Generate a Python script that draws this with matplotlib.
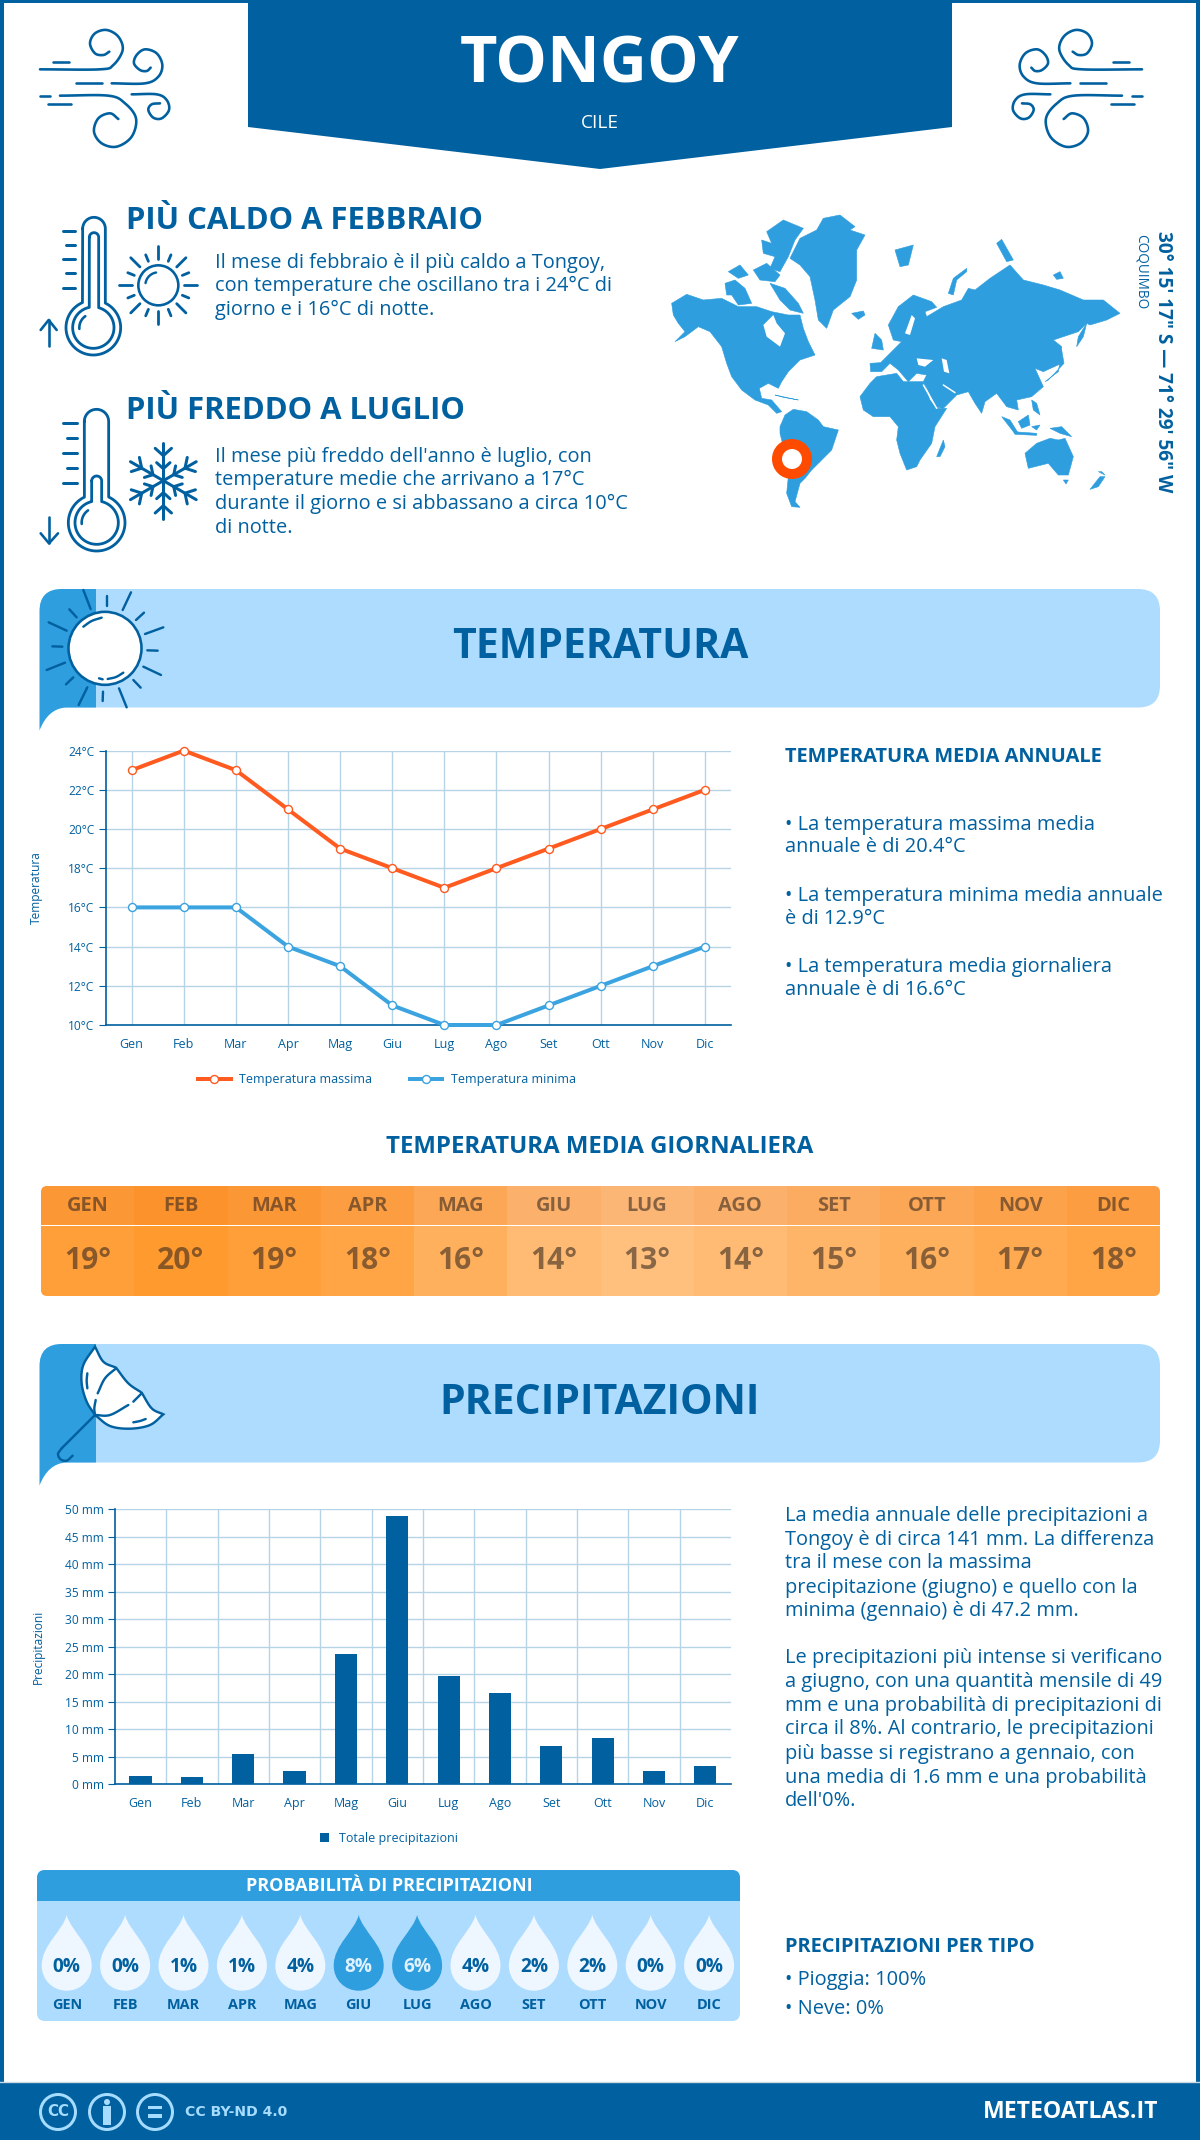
import numpy as np
import matplotlib
matplotlib.use('Agg')
import matplotlib.pyplot as plt
from matplotlib.colors import LinearSegmentedColormap, to_rgb
from matplotlib.patches import Circle, FancyBboxPatch, PathPatch, Polygon, Rectangle
from matplotlib.path import Path

plt.rcParams['font.family'] = ['Open Sans', 'DejaVu Sans']

# Data
months = ['Gen', 'Feb', 'Mar', 'Apr', 'Mag', 'Giu', 'Lug', 'Ago', 'Set', 'Ott', 'Nov', 'Dic']
months_upper = [m.upper() for m in months]
temp_max = [23, 24, 23, 21, 19, 18, 17, 18, 19, 20, 21, 22]
temp_min = [16, 16, 16, 14, 13, 11, 10, 10, 11, 12, 13, 14]
temp_avg = [19, 20, 19, 18, 16, 14, 13, 14, 15, 16, 17, 18]
precip = [1.6, 1.4, 5.5, 2.4, 23.7, 48.8, 19.6, 16.6, 6.9, 8.5, 2.4, 3.3]
rain_prob = [0, 0, 1, 1, 4, 8, 6, 4, 2, 2, 0, 0]
temp_ticks = [10, 12, 14, 16, 18, 20, 22, 24]
precip_ticks = [0, 5, 10, 15, 20, 25, 30, 35, 40, 45, 50]

# Colours
DARK = '#01609f'
MID = '#2e9ede'
LIGHT = '#aedcff'
GRID = '#b7d3e6'
RED = '#ff5a1f'
PALE = '#eef7ff'

W, H = 1200, 2140
fig = plt.figure(figsize=(W / 100, H / 100), dpi=100, facecolor='white')
bg = fig.add_axes([0, 0, 1, 1], zorder=0)
bg.set_xlim(0, W)
bg.set_ylim(H, 0)
bg.axis('off')


def px(size):
    return size * 0.72


def t(x, y, s, size, weight='normal', color=DARK, ha='left', va='center', **kw):
    return bg.text(x, y, s, fontsize=px(size), fontweight=weight, color=color, ha=ha, va=va, **kw)


def smooth(pts, n=10):
    # catmull-rom through the points, for the icons
    p = np.array(pts, dtype=float)
    p = np.vstack([2 * p[0] - p[1], p, 2 * p[-1] - p[-2]])
    out = []
    for i in range(1, len(p) - 2):
        for u in np.linspace(0, 1, n, endpoint=False):
            out.append(0.5 * ((2 * p[i]) + (p[i + 1] - p[i - 1]) * u
                              + (2 * p[i - 1] - 5 * p[i] + 4 * p[i + 1] - p[i + 2]) * u ** 2
                              + (3 * p[i] - p[i - 1] - 3 * p[i + 1] + p[i + 2]) * u ** 3))
    out.append(p[-2])
    return np.array(out)


def arc(cx, cy, r, a0, a1, n=50):
    a = np.radians(np.linspace(a0, a1, n))
    return np.column_stack([cx + r * np.cos(a), cy + r * np.sin(a)])


def stroke(pts, lw=2.6, color=DARK, zorder=5):
    pts = np.asarray(pts, dtype=float)
    bg.plot(pts[:, 0], pts[:, 1], color=color, lw=px(lw), solid_capstyle='round',
            solid_joinstyle='round', zorder=zorder)


def to_page(pts, ox, oy, scale=1 / 3):
    return [(ox + a * scale, oy + b * scale) for a, b in pts]


# Page frame, banner, footer
bg.add_patch(Rectangle((0, 0), 4, H, color=DARK, lw=0))
bg.add_patch(Rectangle((W - 4, 0), 4, H, color=DARK, lw=0))
bg.add_patch(Rectangle((0, 0), W, 3, color=DARK, lw=0))
bg.add_patch(Polygon([(248, 0), (952, 0), (952, 127), (600, 169), (248, 127)], color=DARK, lw=0))
bg.add_patch(Rectangle((0, 2082), W, 58, color=DARK, lw=0))
t(600, 66, 'TONGOY', 65, 'bold', 'white', ha='center')
t(600, 123, 'CILE', 19, 'normal', 'white', ha='center')

# Wind icons
wind_lines = [
    [(30, 163), (210, 163), (250, 150), (278, 105), (265, 65), (230, 45), (195, 55), (180, 85), (195, 115), (220, 120), (238, 110)],
    [(245, 205), (345, 205), (385, 185), (397, 150), (380, 115), (345, 103), (320, 120), (312, 145), (330, 165), (350, 168), (362, 158)],
    [(90, 242), (235, 242), (285, 265), (318, 310), (305, 365), (260, 395), (215, 385), (192, 350), (205, 310), (240, 295), (265, 312)],
    [(305, 238), (380, 238), (410, 255), (417, 285), (395, 310), (370, 308), (355, 285), (365, 268), (390, 265)],
]
wind_dashes = [[(68, 140), (118, 140)], [(138, 205), (215, 205)], [(30, 242), (60, 242)], [(55, 267), (123, 267)]]
for mirror in (False, True):
    for group, fn in ((wind_lines, smooth), (wind_dashes, np.array)):
        for line in group:
            pts = np.array(fn(to_page(line, 30, 15)))
            if mirror:
                pts[:, 0] = 1182 - pts[:, 0]
            stroke(pts, 2.6)


# Thermometers
def thermometer(ox, oy, cx, cy, r_out, r_in, left, right, top, il, ir, itop, ticks, arrow):
    def tube(l, r, tp, rad):
        rm = (l + r) / 2
        hw = (r - l) / 2
        dy = np.sqrt(rad ** 2 - (r - cx) ** 2)
        a_r = np.degrees(np.arctan2(-dy, r - cx))
        a_l = np.degrees(np.arctan2(-dy, l - cx)) + 360
        p = np.vstack([[(l, tp + hw)], arc(rm, tp + hw, hw, 180, 360), [(r, cy - dy)],
                       arc(cx, cy, rad, a_r, a_l, 80), [(l, tp + hw)]])
        return p
    stroke(np.array(to_page(tube(left, right, top, r_out), ox, oy)), 2.8)
    stroke(np.array(to_page(tube(il, ir, itop, r_in), ox, oy)), 2.8)
    stroke(np.array(to_page(arc(cx, cy, r_in - 20, 175, 235), ox, oy)), 2.6)
    for x0, x1, y in ticks:
        stroke(np.array(to_page([(x0, y), (x1, y)], ox, oy)), 3)
    for seg in arrow:
        stroke(np.array(to_page(seg, ox, oy)), 2.6)


thermometer(30, 200, 190, 383, 82, 62, 158, 226, 52, 178, 206, 98,
            [(98, 135, 93), (108, 135, 135), (98, 135, 178), (108, 135, 220), (98, 135, 263)],
            [[(56, 360), (56, 438)], [(32, 390), (56, 360), (80, 390)]])
thermometer(30, 200, 200, 968, 85, 65, 163, 236, 628, 185, 215, 828,
            [(100, 140, 670), (110, 140, 715), (100, 140, 759), (110, 140, 803), (100, 140, 848)],
            [[(57, 950), (57, 1030)], [(32, 1000), (57, 1030), (84, 1000)]])

# Small sun
sx, sy = 30 + 385 / 3, 200 + 256 / 3
bg.add_patch(Circle((sx, sy), 20, fill=False, ec=DARK, lw=px(2.6), zorder=5))
stroke(arc(sx, sy, 13, 190, 260), 2.4)
for k in range(16):
    a = np.radians(k * 22.5)
    if k % 2 == 0:
        r0, r1 = (26, 39)
    else:
        r0, r1 = (26, 33)
    stroke([(sx + r0 * np.cos(a), sy + r0 * np.sin(a)), (sx + r1 * np.cos(a), sy + r1 * np.sin(a))], 2.8)

# Snowflake
fx, fy = 30 + 400 / 3, 200 + 842 / 3
for k in range(6):
    a = np.radians(90 + k * 60)
    ux, uy = np.cos(a), np.sin(a)
    stroke([(fx, fy), (fx + 38 * ux, fy + 38 * uy)], 3)
    for r, blen in ((25, 11), (12, 9)):
        vx, vy = fx + r * ux, fy + r * uy
        for d in (-48, 48):
            b = a + np.radians(d)
            stroke([(vx, vy), (vx + blen * np.cos(b), vy + blen * np.sin(b))], 3)

t(126, 221, 'PIÙ CALDO A FEBBRAIO', 31, 'bold')
for y, s in zip([263, 286, 310], ['Il mese di febbraio è il più caldo a Tongoy,',
                                  'con temperature che oscillano tra i 24°C di',
                                  'giorno e i 16°C di notte.']):
    t(215, y, s, 20)
t(126, 411, 'PIÙ FREDDO A LUGLIO', 31, 'bold')
for y, s in zip([457, 480, 504, 528], ["Il mese più freddo dell'anno è luglio, con",
                                       'temperature medie che arrivano a 17°C',
                                       'durante il giorno e si abbassano a circa 10°C',
                                       'di notte.']):
    t(215, y, s, 20)

# World map, outlines
land = [
    # north america
    [(35, 310), (80, 283), (130, 300), (185, 295), (235, 320), (290, 320), (335, 335), (385, 345), (420, 345), (430, 385), (445, 425), (465, 465), (420, 480), (385, 515), (365, 545), (355, 565), (325, 550), (298, 565), (305, 595), (335, 600), (365, 635), (350, 640), (325, 615), (285, 600), (245, 570), (215, 530), (200, 490), (185, 440), (150, 395), (115, 380), (75, 410), (45, 425), (75, 395), (55, 370), (40, 345)],
    # arctic islands
    [(195, 250), (225, 240), (255, 265), (275, 310), (235, 315), (215, 285), (200, 285)],
    [(205, 215), (240, 195), (265, 225), (235, 235)],
    [(280, 210), (320, 190), (360, 225), (345, 245), (300, 240)],
    [(330, 250), (375, 265), (415, 310), (430, 340), (390, 330), (360, 300)],
    [(320, 95), (370, 60), (430, 85), (405, 120), (385, 170), (360, 215), (330, 205), (345, 170), (310, 160), (305, 120), (335, 130)],
    # greenland, iceland
    [(390, 175), (420, 115), (470, 90), (490, 55), (540, 45), (585, 80), (570, 90), (615, 105), (590, 150), (590, 240), (570, 290), (520, 330), (500, 385), (475, 360), (465, 300), (450, 230), (420, 195)],
    [(575, 340), (610, 333), (615, 345), (595, 358)],
    # south america
    [(360, 680), (375, 645), (400, 628), (440, 635), (475, 660), (490, 680), (535, 690), (515, 750), (490, 775), (455, 810), (435, 835), (420, 850), (405, 905), (420, 922), (395, 920), (380, 880), (385, 830), (385, 800), (360, 700)],
    # africa
    [(600, 590), (630, 550), (650, 530), (710, 520), (730, 545), (790, 545), (810, 600), (830, 625), (860, 625), (825, 680), (815, 730), (780, 780), (770, 800), (740, 810), (720, 760), (710, 720), (715, 680), (690, 650), (640, 650), (610, 630)],
    [(830, 770), (850, 720), (855, 740), (840, 770)],
    # eurasia
    [(632, 515), (630, 490), (662, 488), (690, 460), (725, 425), (700, 420), (685, 375), (715, 320), (760, 285), (815, 305), (830, 322), (795, 335), (800, 350), (850, 320), (905, 300), (925, 265), (945, 270), (990, 235), (1050, 195), (1090, 240), (1150, 255), (1200, 270), (1270, 300), (1330, 300), (1380, 340), (1340, 360), (1290, 375), (1280, 370), (1255, 395), (1180, 420), (1205, 440), (1205, 490), (1150, 515), (1125, 505), (1150, 560), (1115, 590), (1070, 600), (1075, 630), (1040, 620), (1010, 580), (975, 605), (965, 640), (945, 610), (925, 575), (890, 585), (850, 625), (830, 622), (790, 545), (800, 525), (770, 520), (745, 545), (715, 510), (690, 490), (665, 515)],
    # europe and arctic bits
    [(645, 400), (665, 420), (670, 450), (635, 445)],
    [(705, 150), (760, 135), (745, 195), (720, 200)],
    [(865, 280), (880, 235), (920, 205), (920, 215), (890, 240), (880, 285)],
    [(1010, 130), (1025, 118), (1060, 180), (1040, 185)],
    [(1180, 225), (1200, 215), (1210, 235), (1190, 238)],
    # asia islands
    [(1250, 440), (1255, 410), (1280, 370), (1270, 410)],
    [(1155, 545), (1195, 515), (1205, 450), (1212, 490), (1165, 540)],
    [(1115, 600), (1130, 610), (1140, 645), (1120, 630)],
    [(1025, 650), (1050, 660), (1075, 700), (1060, 695)],
    [(1060, 695), (1130, 700), (1130, 706), (1065, 703)],
    [(1075, 665), (1105, 645), (1110, 675), (1085, 685)],
    [(1115, 680), (1140, 675), (1130, 690)],
    [(1170, 685), (1205, 680), (1235, 710), (1200, 700)],
    # oceania
    [(1095, 760), (1130, 730), (1170, 715), (1195, 720), (1215, 715), (1240, 770), (1225, 825), (1195, 825), (1165, 790), (1105, 805)],
    [(1210, 840), (1225, 840), (1218, 852)],
    [(1290, 868), (1320, 830), (1335, 830), (1315, 860)],
    [(1315, 815), (1325, 815), (1335, 825)],
    [(345, 585), (415, 600), (370, 592)],
]
water = [
    [(310, 375), (320, 410), (360, 440), (375, 400), (350, 370), (340, 345)],
    [(770, 475), (820, 480), (795, 500), (775, 495)],
    [(845, 475), (860, 480), (868, 520), (852, 515)],
    [(735, 400), (755, 345), (765, 355), (750, 405)],
]
for shape in land:
    bg.add_patch(Polygon(to_page(shape, 660, 200), color=MID, lw=0.4, zorder=2))
for shape in water:
    bg.add_patch(Polygon(to_page(shape, 660, 200), color='white', lw=0, zorder=3))
stroke(to_page([(790, 555), (830, 625)], 660, 200), 1.5, 'white', 3)
stroke(to_page([(850, 555), (885, 578)], 660, 200), 1.5, 'white', 3)
bg.add_patch(Circle((792, 459), 15, fc='white', ec='#ff4b00', lw=px(10), zorder=6))
t(1163, 362, '30° 15\' 17" S — 71° 29\' 56" W', 19, 'bold', rotation=-90, ha='center')
t(1141, 272, 'COQUIMBO', 13.5, rotation=-90, ha='center')


# Section bands
def band(top, bottom):
    bg.add_patch(FancyBboxPatch((40, top), 1120, bottom - top, boxstyle='round,pad=0,rounding_size=22',
                                fc=LIGHT, ec='none', zorder=1))
    verts = [(39.5, top + 22), (39.5, top), (62, top), (96, top), (96, bottom), (66, bottom),
             (48, bottom + 1), (39.5, bottom + 23), (39.5, top + 22)]
    codes = [Path.MOVETO, Path.CURVE3, Path.CURVE3, Path.LINETO, Path.LINETO, Path.LINETO,
             Path.CURVE3, Path.CURVE3, Path.CLOSEPOLY]
    bg.add_patch(PathPatch(Path(verts, codes), fc=MID, ec='none', zorder=2))


band(589, 707.5)
band(1344, 1462.5)
t(600, 648, 'TEMPERATURA', 41, 'bold', ha='center')
t(600, 1404, 'PRECIPITAZIONI', 41, 'bold', ha='center')

# Big sun icon
bx, by = 30 + 225 / 3, 580 + 205 / 3
bg.add_patch(Circle((bx, by), 36.5, fc='white', ec=DARK, lw=px(2.6), zorder=5))
sun_rays = [[(160, 30), (182, 87)], [(230, 47), (230, 78)], [(303, 37), (278, 90)], [(342, 98), (318, 120)],
            [(400, 142), (345, 162)], [(383, 212), (352, 211)], [(393, 285), (340, 260)], [(332, 323), (310, 300)],
            [(290, 382), (267, 325)], [(218, 363), (219, 335)], [(146, 375), (172, 322)], [(108, 313), (130, 292)],
            [(50, 270), (105, 248)], [(67, 199), (97, 200)], [(56, 127), (110, 152)], [(118, 88), (140, 112)],
            [(207, 295), (218, 298)]]
for ray in sun_rays:
    stroke(to_page(ray, 30, 580), 2.4)
stroke(smooth(to_page([(160, 140), (185, 123), (215, 113)], 30, 580)), 2.4)
stroke(smooth(to_page([(233, 297), (258, 291), (280, 278)], 30, 580)), 2.4)

# Umbrella icon
canopy = [[(195, 20), (160, 75), (155, 130), (170, 185), (195, 225)],
          [(195, 225), (240, 258), (300, 266), (360, 255), (400, 223)],
          [(400, 223), (365, 205), (335, 158)],
          [(335, 158), (295, 130), (258, 83)],
          [(258, 83), (220, 65), (195, 20)]]
outline = np.vstack([smooth(to_page(part, 30, 1340)) for part in canopy])
bg.add_patch(Polygon(outline, fc='white', ec=DARK, lw=px(2.4), zorder=5))
for rib in [[(258, 85), (225, 115), (203, 160)], [(197, 180), (193, 205), (195, 225)],
            [(195, 225), (240, 225), (295, 195)], [(310, 185), (335, 160)],
            [(172, 100), (170, 122), (172, 145)], [(310, 247), (330, 243), (347, 237)],
            [(195, 225), (145, 275), (95, 325)], [(95, 325), (84, 342), (92, 358), (110, 362), (128, 347)]]:
    stroke(smooth(to_page(rib, 30, 1340)), 2.4, zorder=6)

# Temperature chart
ax = fig.add_axes([105.6 / W, 1 - 1025 / H, 625.4 / W, 274.4 / H], zorder=2)
ax.plot(months, temp_max, color=RED, lw=px(4), marker='o', ms=px(8), mfc='white', mec=RED, mew=px(1.4),
        label='Temperatura massima', clip_on=False, zorder=4)
ax.plot(months, temp_min, color='#3ba3e0', lw=px(4), marker='o', ms=px(8), mfc='white', mec='#3ba3e0', mew=px(1.4),
        label='Temperatura minima', clip_on=False, zorder=4)
ax.set_xlim(-0.5, 11.5)
ax.set_ylim(10, 24)
ax.set_yticks(temp_ticks)
ax.set_yticklabels([f'{v}°C' for v in temp_ticks])
ax.set_ylabel('Temperatura', fontsize=px(12), color=DARK, labelpad=18)
ax.grid(True, color=GRID, lw=1)
ax.set_axisbelow(True)
ax.tick_params(axis='y', length=5, color=DARK, labelcolor=DARK, labelsize=px(12), pad=3)
ax.tick_params(axis='x', length=0, labelcolor=DARK, labelsize=px(12.5), pad=9)
for side in ('top', 'right'):
    ax.spines[side].set_visible(False)
for side in ('left', 'bottom'):
    ax.spines[side].set_color(DARK)
    ax.spines[side].set_linewidth(1.2)
ax.patch.set_alpha(0)
leg = ax.legend(loc='center', bbox_to_anchor=(0.45, -0.2), ncol=2, frameon=False, fontsize=px(12.5),
                handlelength=2.6, handletextpad=0.7, columnspacing=3.0, labelcolor=DARK)

right_x = 785
t(right_x, 757, 'TEMPERATURA MEDIA ANNUALE', 20, 'bold')
for y, s in zip([825, 847, 895.6, 919, 967, 990],
                ['• La temperatura massima media', 'annuale è di 20.4°C',
                 '• La temperatura minima media annuale', 'è di 12.9°C',
                 '• La temperatura media giornaliera', 'annuale è di 16.6°C']):
    t(right_x, y, s, 20)

# Daily mean table
t(600, 1147, 'TEMPERATURA MEDIA GIORNALIERA', 24, 'bold', ha='center')
cell_cmap = LinearSegmentedColormap.from_list('cells', ['#ffc07e', '#ff9a2e'])
x0, cw = 41, (1160 - 41) / 12
clip = FancyBboxPatch((x0, 1186), 1119, 110, boxstyle='round,pad=0,rounding_size=6', fc='none', ec='none')
bg.add_patch(clip)
for i, (m, v) in enumerate(zip(months_upper, temp_avg)):
    col = cell_cmap((v - min(temp_avg)) / (max(temp_avg) - min(temp_avg)))
    head = tuple(np.array(to_rgb(col)) * np.array([0.985, 0.95, 0.93]))
    for y, h, c in ((1186, 39, head), (1226, 70, col)):
        cell = Rectangle((x0 + i * cw, y), cw + 0.5, h, fc=c, ec='none', zorder=2)
        bg.add_patch(cell)
        cell.set_clip_path(clip)
    t(x0 + (i + 0.5) * cw, 1206, m, 20, 'bold', '#3a2a20', ha='center', alpha=0.6, zorder=3)
    t(x0 + (i + 0.5) * cw, 1261, f'{v}°', 30, 'bold', '#3a2a20', ha='center', alpha=0.6, zorder=3)

# Precipitation chart
ax2 = fig.add_axes([114.8 / W, 1 - 1784.4 / H, 616.2 / W, 275.4 / H], zorder=2)
ax2.bar(months, precip, width=0.43, color=DARK, label='Totale precipitazioni', zorder=3)
ax2.set_xlim(-0.5, 11.5)
ax2.set_ylim(0, 50)
ax2.set_yticks(precip_ticks)
ax2.set_yticklabels([f'{v} mm' for v in precip_ticks])
ax2.set_xticks(np.arange(0.5, 11.5, 1), minor=True)
ax2.set_ylabel('Precipitazioni', fontsize=px(12), color=DARK, labelpad=14)
ax2.grid(True, axis='y', color=GRID, lw=1)
ax2.grid(True, axis='x', which='minor', color=GRID, lw=1)
ax2.set_axisbelow(True)
ax2.tick_params(axis='y', length=5, color=DARK, labelcolor=DARK, labelsize=px(12), pad=3)
ax2.tick_params(axis='x', which='both', length=0, labelcolor=DARK, labelsize=px(12.5), pad=9)
for side in ('top', 'right'):
    ax2.spines[side].set_visible(False)
for side in ('left', 'bottom'):
    ax2.spines[side].set_color(DARK)
    ax2.spines[side].set_linewidth(1.2)
ax2.patch.set_alpha(0)
ax2.legend(loc='center', bbox_to_anchor=(0.445, -0.195), frameon=False, fontsize=px(12.5),
           handlelength=0.7, handleheight=0.7, handletextpad=0.8, labelcolor=DARK)

precip_lines = ['La media annuale delle precipitazioni a', 'Tongoy è di circa 141 mm. La differenza',
                'tra il mese con la massima', 'precipitazione (giugno) e quello con la',
                'minima (gennaio) è di 47.2 mm.',
                'Le precipitazioni più intense si verificano', 'a giugno, con una quantità mensile di 49',
                'mm e una probabilità di precipitazioni di', 'circa il 8%. Al contrario, le precipitazioni',
                'più basse si registrano a gennaio, con', 'una media di 1.6 mm e una probabilità', "dell'0%."]
precip_y = [1516, 1539.5, 1563.5, 1587.5, 1611.4, 1658.4, 1682.3, 1706.3, 1729.3, 1753.8, 1777.8, 1801.2]
for y, s in zip(precip_y, precip_lines):
    t(right_x, y, s, 20)

# Rain probability panel
bg.add_patch(FancyBboxPatch((37, 1870), 703, 151, boxstyle='round,pad=0,rounding_size=8', fc=LIGHT, ec='none', zorder=1))
top_clip = FancyBboxPatch((37, 1870), 703, 151, boxstyle='round,pad=0,rounding_size=8', fc='none', ec='none')
bg.add_patch(top_clip)
head = Rectangle((37, 1870), 703, 31, fc=MID, ec='none', zorder=2)
bg.add_patch(head)
head.set_clip_path(top_clip)
t(389, 1886, 'PROBABILITÀ DI PRECIPITAZIONI', 18, 'bold', 'white', ha='center', zorder=3)


def drop(cx, top=1915, bottom=1990.7, hw=25):
    cy = bottom - hw
    verts = [(cx, top), (cx + 4, top + 16), (cx + hw, top + 30), (cx + hw, cy),
             (cx + hw, cy + 14), (cx + 14, bottom), (cx, bottom),
             (cx - 14, bottom), (cx - hw, cy + 14), (cx - hw, cy),
             (cx - hw, top + 30), (cx - 4, top + 16), (cx, top), (cx, top)]
    codes = [Path.MOVETO] + [Path.CURVE4] * 12 + [Path.CLOSEPOLY]
    return Path(verts, codes)


peak_months = sorted(range(12), key=lambda i: rain_prob[i], reverse=True)[:2]
for i, (m, v) in enumerate(zip(months_upper, rain_prob)):
    cx = 66.7 + i * 58.4
    strong = i in peak_months
    bg.add_patch(PathPatch(drop(cx), fc=MID if strong else PALE, ec='none', zorder=2))
    t(cx, 1967, f'{v}%', 19, 'bold', '#dff1ff' if strong else DARK, ha='center', zorder=3)
    t(cx, 2005, m, 14.5, 'bold', ha='center', zorder=3)

t(right_x, 1947, 'PRECIPITAZIONI PER TIPO', 20, 'bold')
t(right_x, 1980, '• Pioggia: 100%', 20)
t(right_x, 2009, '• Neve: 0%', 20)

# Footer
CC = '#a5dcff'
bg.plot([0, W], [2081.5, 2081.5], color='#c9d9e4', lw=1, zorder=1)
for cx in (58, 107, 155):
    bg.add_patch(Circle((cx, 2112), 17.5, fc='none', ec=CC, lw=px(3), zorder=5))
t(58, 2111, 'CC', 15, 'bold', CC, ha='center', family='DejaVu Sans', zorder=5)
bg.add_patch(Circle((107, 2102), 3, color=CC, lw=0, zorder=5))
bg.add_patch(Rectangle((103, 2106), 8, 19, color=CC, lw=0, zorder=5))
bg.add_patch(Rectangle((148, 2105.5), 14, 3.5, color=CC, lw=0, zorder=5))
bg.add_patch(Rectangle((148, 2114), 14, 3.5, color=CC, lw=0, zorder=5))
t(185, 2112, 'CC BY-ND 4.0', 14, 'bold', CC, family='DejaVu Sans')
t(1158, 2112, 'METEOATLAS.IT', 23, 'bold', 'white', ha='right')

fig.savefig('out.png', dpi=100)
